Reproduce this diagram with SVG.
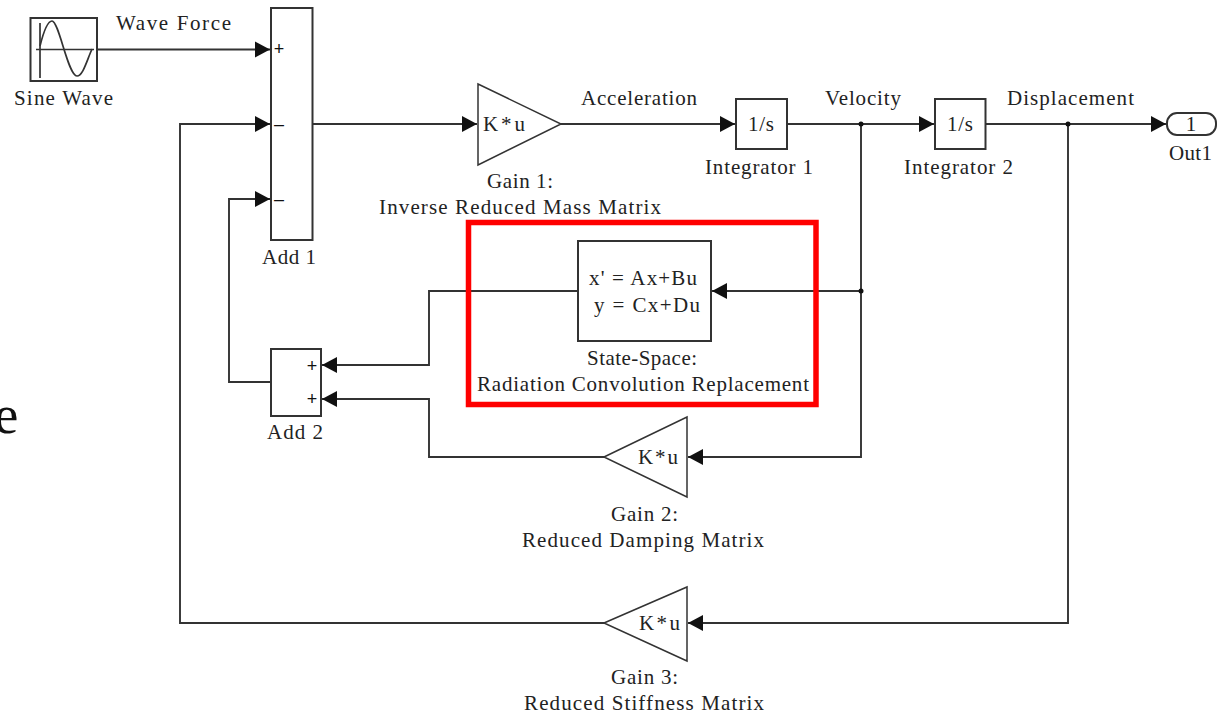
<svg xmlns="http://www.w3.org/2000/svg" width="1217" height="715" viewBox="0 0 1217 715">
<style>
text{font-family:"Liberation Serif","Times New Roman",serif;font-size:21px;fill:#222;text-anchor:middle}
.b{fill:#fff;stroke:#333;stroke-width:2}
.t{fill:#fff;stroke:#333;stroke-width:1.500}
.c{fill:none;stroke:#333;stroke-width:1.900}
.s{font-size:18px;font-family:"Liberation Sans",sans-serif;fill:#111}
.l{fill:none;stroke:#333;stroke-width:1.700}
</style>
<defs><marker id="a" markerUnits="userSpaceOnUse" markerWidth="16" markerHeight="18" refX="15" refY="9" orient="auto"><path d="M0 1L15 9L0 17Z" fill="#111"/></marker></defs>
<rect width="1217" height="715" fill="#fff"/>
<text x="-6" y="433" style="font-size:55px;fill:#111;text-anchor:start">e</text>
<g id="connectors">
<path class="c" d="M97 49.500H270" marker-end="url(#a)"/>
<path class="c" d="M312 124H477" marker-end="url(#a)"/>
<path class="c" d="M561 124H735" marker-end="url(#a)"/>
<path class="c" d="M787 124H934" marker-end="url(#a)"/>
<path class="c" d="M985 124H1166" marker-end="url(#a)"/>
<path class="c" d="M861 124V291H712" marker-end="url(#a)"/>
<path class="c" d="M861 291V457H688" marker-end="url(#a)"/>
<path class="c" d="M1068 124V623H688" marker-end="url(#a)"/>
<path class="c" d="M604 623H180V124H270" marker-end="url(#a)"/>
<path class="c" d="M271 382H229V199H270" marker-end="url(#a)"/>
<path class="c" d="M578 291H429V365H322" marker-end="url(#a)"/>
<path class="c" d="M604 457H429V399H322" marker-end="url(#a)"/>
<circle cx="861" cy="124" r="2.500" fill="#111"/>
<circle cx="861" cy="291" r="2.500" fill="#111"/>
<circle cx="1068" cy="124" r="2.500" fill="#111"/>
</g>
<g id="sine-wave"><rect class="b" x="30.500" y="18" width="66.500" height="63"/>
<path class="l" d="M40 23V78M36 49.500H94"/>
<path class="l" d="M40 46C44 30 48 21 52 21C59 21 68 76 77 76C83 76 87 60 92 49"/>
<text x="63.500" y="105" textLength="99">Sine Wave</text></g>
<text x="173.500" y="30" textLength="115">Wave Force</text>
<g id="add-1"><rect class="b" x="271" y="8" width="41.500" height="232"/>
<text class="s" x="279" y="55">+</text><text class="s" x="279" y="130">–</text><text class="s" x="279" y="205">–</text>
<text x="289" y="264" textLength="54">Add 1</text></g>
<g id="gain-1"><path class="t" d="M478 84L561 124L478 165Z"/>
<text x="504" y="131" textLength="42">K*u</text>
<text x="520" y="188" textLength="66">Gain 1:</text><text x="520" y="214" textLength="282">Inverse Reduced Mass Matrix</text></g>
<text x="639" y="105" textLength="116">Acceleration</text>
<g id="integrator-1"><rect class="b" x="736" y="99" width="51" height="50"/><text x="761" y="131" textLength="26">1/s</text><text x="759" y="174" textLength="108">Integrator 1</text></g>
<text x="863" y="105" textLength="76">Velocity</text>
<g id="integrator-2"><rect class="b" x="935" y="99" width="50.500" height="50"/><text x="960" y="131" textLength="26">1/s</text><text x="958.500" y="174" textLength="109">Integrator 2</text></g>
<text x="1070.500" y="105" textLength="127">Displacement</text>
<g id="out1"><rect class="b" x="1167" y="113" width="49" height="22" rx="10"/><text x="1191" y="131">1</text><text x="1190.500" y="160" textLength="43">Out1</text></g>
<g id="state-space"><rect class="b" x="578" y="241" width="133" height="100"/>
<text x="643" y="285" textLength="108">x' = Ax+Bu</text><text x="647" y="312" textLength="106">y = Cx+Du</text>
<text x="642" y="365" textLength="110">State-Space:</text><text x="643" y="391" textLength="332">Radiation Convolution Replacement</text></g>
<g id="add-2"><rect class="b" x="271" y="349" width="50" height="67"/>
<text class="s" x="312" y="372">+</text><text class="s" x="312" y="405">+</text>
<text x="295" y="439" textLength="56">Add 2</text></g>
<g id="gain-2"><path class="t" d="M604 457L687 417V497Z"/><text x="658" y="464" textLength="40">K*u</text>
<text x="644.500" y="521" textLength="67">Gain 2:</text><text x="643" y="547" textLength="242">Reduced Damping Matrix</text></g>
<g id="gain-3"><path class="t" d="M604 623L687 587V661Z"/><text x="659.500" y="630" textLength="41">K*u</text>
<text x="644.500" y="684" textLength="67">Gain 3:</text><text x="644" y="710" textLength="240">Reduced Stiffness Matrix</text></g>
<rect id="highlight" x="468.500" y="222.500" width="347.500" height="182" fill="none" stroke="#f00" stroke-width="5.500"/>
</svg>
